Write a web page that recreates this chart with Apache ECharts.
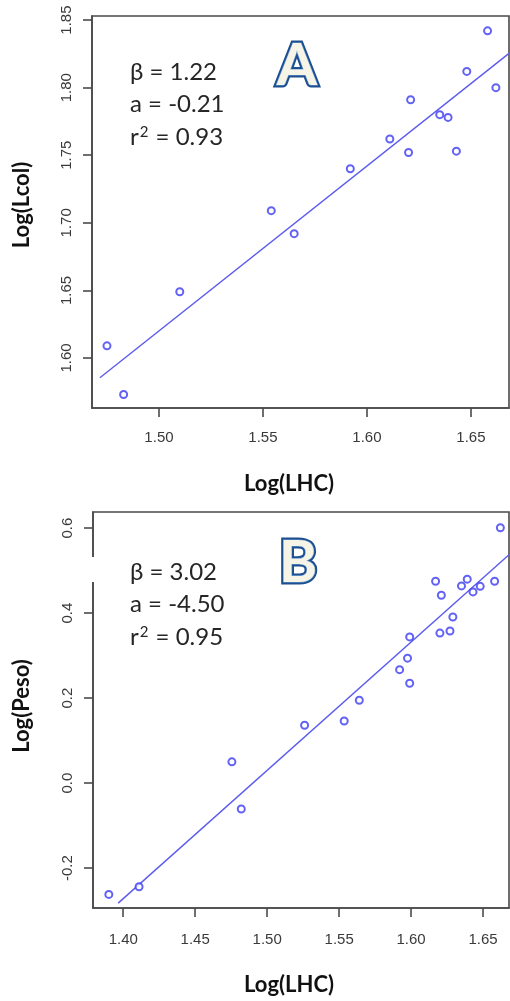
<!DOCTYPE html>
<html>
<head>
<meta charset="utf-8">
<script src="https://cdn.jsdelivr.net/npm/echarts@6/dist/echarts.min.js"></script>
<style>
  html, body { margin: 0; padding: 0; background: #fff; }
  #chart { width: 510px; height: 1001px; }
</style>
</head>
<body>
<div id="chart"></div>
<script>
// Panel A: Log(LHC) vs Log(Lcol)
const lhcA  = [1.475, 1.483, 1.510, 1.554, 1.565, 1.592, 1.611, 1.620, 1.621, 1.635, 1.639, 1.643, 1.648, 1.658, 1.662];
const lcolA = [1.609, 1.573, 1.649, 1.709, 1.692, 1.740, 1.762, 1.752, 1.791, 1.780, 1.778, 1.753, 1.812, 1.842, 1.800];
// Panel B: Log(LHC) vs Log(Peso)
const lhcB  = [1.390, 1.411, 1.4755, 1.482, 1.526, 1.5535, 1.564, 1.592, 1.599, 1.5975, 1.599, 1.620, 1.627, 1.629, 1.617, 1.621, 1.635, 1.639, 1.643, 1.648, 1.658, 1.662];
const pesoB = [-0.262, -0.244, 0.050, -0.061, 0.136, 0.146, 0.195, 0.267, 0.235, 0.294, 0.344, 0.353, 0.358, 0.391, 0.475, 0.442, 0.464, 0.480, 0.450, 0.463, 0.475, 0.601];

// Regression coefficients (log-log fit: y = a + beta * x)
const fitA = { beta: 1.22, a: -0.21, r2: 0.93 };
const fitB = { beta: 3.02, a: -4.50, r2: 0.95 };
// x span over which each fitted line is drawn
const fitSpanA = [1.4716, 1.6683];
const fitSpanB = [1.3965, 1.668];

// Tick labels
const xTicksA = [1.50, 1.55, 1.60, 1.65];
const yTicksA = [1.60, 1.65, 1.70, 1.75, 1.80, 1.85];
const xTicksB = [1.40, 1.45, 1.50, 1.55, 1.60, 1.65];
const yTicksB = [-0.2, 0.0, 0.2, 0.4, 0.6];

const pairs = (xs, ys) => xs.map((x, i) => [x, ys[i]]);
const fitLine = (fit, span) => span.map(x => [x, fit.a + fit.beta * x]);

const frame = '#4a4a4a';
const dotColor = '#3b3bf2';
const lineColor = '#5c5cee';
const tickLabel = {
  color: '#3a3a3a',
  fontFamily: '"Liberation Sans", Arial, sans-serif',
  fontSize: 15
};

function axisCommon(gridIndex, min, max, ticks) {
  return {
    type: 'value', gridIndex, min, max,
    splitLine: { show: false },
    axisLine: { show: true, onZero: false, lineStyle: { color: frame, width: 1.6 } },
    axisTick: { show: true, length: 9, inside: false, customValues: ticks, lineStyle: { color: frame, width: 1.6 } }
  };
}
function xAxis(gridIndex, min, max, ticks, digits, margin) {
  return Object.assign(axisCommon(gridIndex, min, max, ticks), {
    axisLabel: Object.assign({ customValues: ticks, margin, formatter: v => v.toFixed(digits) }, tickLabel)
  });
}
function yAxis(gridIndex, min, max, ticks, digits, margin) {
  return Object.assign(axisCommon(gridIndex, min, max, ticks), {
    axisLabel: Object.assign({ customValues: ticks, margin, rotate: 90, formatter: v => v.toFixed(digits) }, tickLabel)
  });
}

function annotation(x, y, fit) {
  const base = { fontFamily: 'Lato, "Open Sans", sans-serif', fontSize: 24, fill: '#262626' };
  const lines = [
    'β = ' + fit.beta.toFixed(2),
    'a = ' + fit.a.toFixed(2),
    'r{sup|2} = ' + fit.r2.toFixed(2)
  ];
  return lines.map((t, i) => ({
    type: 'text', x, y: y + i * 32.5, z: 20,
    style: {
      text: t, fontFamily: base.fontFamily, fontSize: base.fontSize, fill: base.fill,
      textAlign: 'left', textVerticalAlign: 'middle',
      rich: {
        sup: { fontFamily: base.fontFamily, fontSize: 15, fill: base.fill, verticalAlign: 'top', padding: [0, 1, 0, 1] }
      }
    }
  }));
}

function panelLetter(x, y, letter) {
  const font = 'bold 58px Lato, "Open Sans", sans-serif';
  return [
    {
      type: 'text', x, y, z: 20,
      style: {
        text: letter, font, fill: '#1d4f8f', stroke: '#1d4f8f', lineWidth: 5,
        textAlign: 'center', textVerticalAlign: 'middle',
        shadowColor: 'rgba(0,0,0,0.35)', shadowBlur: 4, shadowOffsetX: 2, shadowOffsetY: 2
      }
    },
    {
      type: 'text', x, y, z: 21,
      style: {
        text: letter, font, fill: '#f6f4e6', stroke: '#6a9bd4', lineWidth: 1.2,
        textAlign: 'center', textVerticalAlign: 'middle'
      }
    }
  ];
}

function axisName(x, y, text, vertical) {
  return {
    type: 'text', x, y, z: 20, rotation: vertical ? Math.PI / 2 : 0,
    style: {
      text, font: 'bold 22px Lato, "Open Sans", sans-serif', fill: '#111',
      textAlign: 'center', textVerticalAlign: 'middle'
    }
  };
}

const chart = echarts.init(document.getElementById('chart'), null, { renderer: 'canvas' });

chart.setOption({
  backgroundColor: '#fff',
  animation: false,
  grid: [
    { left: 92, top: 16, width: 417, height: 392, show: true, borderColor: frame, borderWidth: 1.6 },
    { left: 93, top: 512, width: 416, height: 396, show: true, borderColor: frame, borderWidth: 1.6 }
  ],
  xAxis: [
    xAxis(0, 1.4678, 1.6683, xTicksA, 2, 22),
    xAxis(1, 1.379, 1.668, xTicksB, 2, 24)
  ],
  yAxis: [
    yAxis(0, 1.563, 1.853, yTicksA, 2, 18),
    yAxis(1, -0.294, 0.638, yTicksB, 1, 18)
  ],
  series: [
    {
      type: 'line', xAxisIndex: 0, yAxisIndex: 0, data: fitLine(fitA, fitSpanA),
      showSymbol: false, lineStyle: { color: lineColor, width: 1.4 }, z: 2
    },
    {
      type: 'scatter', xAxisIndex: 0, yAxisIndex: 0, data: pairs(lhcA, lcolA),
      symbol: 'emptyCircle', symbolSize: 7,
      itemStyle: { color: dotColor, borderColor: dotColor, borderWidth: 1.5 }, z: 3
    },
    {
      type: 'line', xAxisIndex: 1, yAxisIndex: 1, data: fitLine(fitB, fitSpanB),
      showSymbol: false, lineStyle: { color: lineColor, width: 1.4 }, z: 2
    },
    {
      type: 'scatter', xAxisIndex: 1, yAxisIndex: 1, data: pairs(lhcB, pesoB),
      symbol: 'emptyCircle', symbolSize: 7,
      itemStyle: { color: dotColor, borderColor: dotColor, borderWidth: 1.5 }, z: 3
    }
  ],
  graphic: [
    // white backing behind the panel B statistics box
    { type: 'rect', z: 10, shape: { x: 15, y: 557, width: 238, height: 25 }, style: { fill: '#fff' } },
    ...annotation(130, 72, fitA),
    ...annotation(130, 572, fitB),
    ...panelLetter(297, 66, 'A'),
    ...panelLetter(298, 563, 'B'),
    axisName(22, 205, 'Log(Lcol)', true),
    axisName(289, 484, 'Log(LHC)', false),
    axisName(22, 706, 'Log(Peso)', true),
    axisName(289, 985, 'Log(LHC)', false)
  ]
});
</script>
</body>
</html>
